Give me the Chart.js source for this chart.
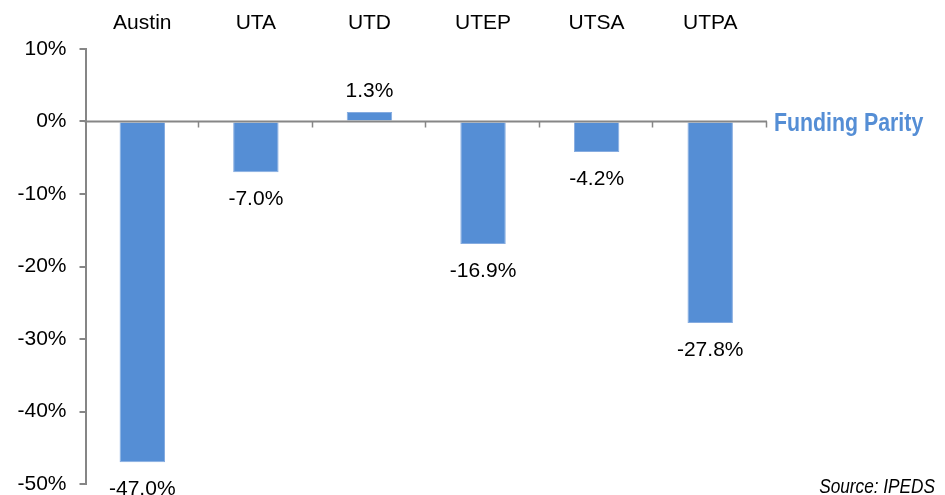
<!DOCTYPE html>
<html><head><meta charset="utf-8">
<script src="https://cdn.jsdelivr.net/npm/chart.js@4"></script>
<style>html,body{margin:0;padding:0;background:#fff}</style>
</head><body>
<canvas id="c" width="945" height="495" style="display:block;width:945px;height:495px"></canvas>
<script>
const categories = ['Austin', 'UTA', 'UTD', 'UTEP', 'UTSA', 'UTPA'];
const values = [-47.0, -7.0, 1.3, -16.9, -4.2, -27.8];
const yMin = -50, yMax = 10, yStep = 10;
const refLabel = 'Funding Parity';
const sourceText = 'Source: IPEDS';

const AXIS = '#868686';
const BAR = '#558ED5';
const FONT = '"Liberation Sans", Arial, sans-serif';

function narrowText(ctx, text, x, y, font, color, align, squeeze) {
  ctx.save();
  ctx.font = font;
  ctx.fillStyle = color;
  ctx.textBaseline = 'alphabetic';
  ctx.textAlign = 'left';
  const w = ctx.measureText(text).width * squeeze;
  const x0 = align === 'right' ? x - w : x;
  ctx.translate(x0, y);
  ctx.scale(squeeze, 1);
  ctx.fillText(text, 0, 0);
  ctx.restore();
}

const extras = {
  id: 'extras',
  afterDatasetsDraw(chart) {
    const ctx = chart.ctx, xs = chart.scales.x, ys = chart.scales.y, a = chart.chartArea;
    const y0 = ys.getPixelForValue(0);
    ctx.save();
    ctx.strokeStyle = AXIS;
    ctx.lineWidth = 2;
    ctx.beginPath();
    ctx.moveTo(a.left - 1, y0); ctx.lineTo(a.right, y0);
    ctx.stroke();
    ctx.lineWidth = 1.5;
    for (let i = 1; i <= categories.length; i++) {
      const x = Math.round(xs.getPixelForValue(i - 0.5)) - 0.5;
      ctx.beginPath(); ctx.moveTo(x, y0); ctx.lineTo(x, y0 + 6); ctx.stroke();
    }
    // value labels
    const meta = chart.getDatasetMeta(0);
    ctx.font = '21px ' + FONT;
    ctx.fillStyle = '#000';
    ctx.textAlign = 'center';
    ctx.textBaseline = 'alphabetic';
    meta.data.forEach((bar, i) => {
      const v = values[i];
      const txt = v.toFixed(1) + '%';
      const ty = v < 0 ? bar.y + 33 : bar.y - 15.5;
      ctx.fillText(txt, bar.x, ty);
    });
    ctx.restore();
    narrowText(ctx, refLabel, a.right + 7, y0 + 9.5, 'bold 26px ' + FONT, BAR, 'left', 0.82);
    narrowText(ctx, sourceText, 935, 493, 'italic 21px ' + FONT, '#000', 'right', 0.82);
  }
};

new Chart(document.getElementById('c'), {
  type: 'bar',
  data: {
    labels: categories,
    datasets: [{
      data: values,
      backgroundColor: BAR,
      borderColor: '#86ACE0',
      borderWidth: 1,
      categoryPercentage: 1,
      barPercentage: 0.4
    }]
  },
  options: {
    responsive: false,
    animation: false,
    devicePixelRatio: 1,
    layout: { padding: { left: 0, right: 178, top: 0, bottom: 11 } },
    plugins: { legend: { display: false }, tooltip: { enabled: false } },
    scales: {
      x: {
        position: 'top',
        grid: { display: false, drawTicks: false },
        border: { display: false },
        ticks: { font: { size: 21, family: FONT }, color: '#000', padding: 13, maxRotation: 0 },
        afterFit(s) { s.height = 49; s.paddingLeft = 0; s.paddingRight = 0; }
      },
      y: {
        min: yMin, max: yMax,
        grid: { display: true, drawOnChartArea: false, drawTicks: true, tickLength: 6, color: AXIS, lineWidth: 2 },
        border: { display: true, color: AXIS, width: 2 },
        ticks: {
          stepSize: yStep,
          font: { size: 21, family: FONT }, color: '#000', padding: 13,
          callback: v => v + '%'
        },
        afterFit(s) { s.width = 85.5; s.paddingTop = 0; s.paddingBottom = 0; }
      }
    }
  },
  plugins: [extras]
});
</script>
</body></html>
